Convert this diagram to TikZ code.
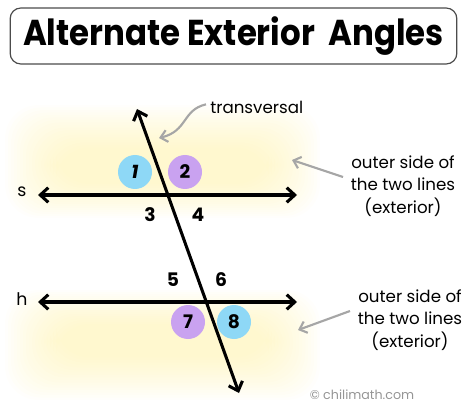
\documentclass[tikz,border=0pt]{standalone}
\usepackage{fontspec}
\setmainfont{Poppins}
\usetikzlibrary{arrows.meta}

\definecolor{anglecyan}{HTML}{8ED8F6}
\definecolor{anglepurple}{HTML}{C9A2F0}
\definecolor{glowyellow}{HTML}{FFEE90}
\definecolor{notegray}{HTML}{A6A6A6}

\tikzset{
  mainline/.style={line width=2.3pt, {Straight Barb[length=6pt,width=11pt]}-{Straight Barb[length=6pt,width=11pt]}},
  notearrow/.style={notegray, line width=1.6pt, -{Straight Barb[length=5pt,width=9pt]}},
  anglenum/.style={font=\fontsize{14}{14}\selectfont\bfseries, inner sep=0pt},
  anglecircle/.style={circle, minimum size=25.5pt, inner sep=0pt},
  notetext/.style={align=center, font=\fontsize{12.5}{17}\selectfont, inner sep=0pt},
  glow/.style={fill=glowyellow, fill opacity=0.032, draw=none}
}

\begin{document}
\begin{tikzpicture}[x=0.75pt,y=0.75pt,yscale=-1,xscale=1]
        \useasboundingbox (0,0) rectangle (474,413);

        % soft yellow bands (outer side of the lines)
        \foreach \i in {0,...,17} {
          \fill[glow, rounded corners=25pt] (5+3*\i,105+2.5*\i) rectangle (320-3*\i,218-2*\i);
          \fill[glow, rounded corners=25pt] (5+3*\i,290+2*\i) rectangle (320-3*\i,400-2.5*\i);
        }

        % title
        \node[draw=black!70, line width=0.9pt, rounded corners=8pt, minimum width=335pt, minimum height=42pt, inner sep=0pt] (title) at (233.5,36)
          {\scalebox{0.9}[1]{\fontsize{27}{27}\selectfont\bfseries Alternate Exterior\ \ Angles}};

        % the two lines and the transversal
        \coordinate (s west) at (38,195);
        \coordinate (s east) at (297,195);
        \coordinate (h west) at (38,302);
        \coordinate (h east) at (297,302);
        \coordinate (t top) at (137,109);
        \coordinate (t bottom) at (239,393);

        \node[anglecircle, fill=anglecyan] (c1) at (135,172) {};
        \node[anglecircle, fill=anglepurple] (c2) at (185,172) {};
        \node[anglecircle, fill=anglepurple] (c7) at (188,322) {};
        \node[anglecircle, fill=anglecyan] (c8) at (234,322) {};

        \draw[mainline] (s west) -- (s east);
        \draw[mainline] (h west) -- (h east);
        \draw[mainline] (t top) -- (t bottom);

        \node[anglenum, font=\fontsize{14}{14}\selectfont\bfseries\itshape] (a1) at (c1) {1};
        \node[anglenum] (a2) at (c2) {2};
        \node[anglenum] (a3) at (150,215) {3};
        \node[anglenum] (a4) at (198,215) {4};
        \node[anglenum] (a5) at (173,280) {5};
        \node[anglenum] (a6) at (221,280) {6};
        \node[anglenum] (a7) at (c7) {7};
        \node[anglenum] (a8) at (c8) {8};

        \node[font=\fontsize{13}{13}\selectfont, inner sep=0pt] (s label) at (22,192) {s};
        \node[font=\fontsize{13}{13}\selectfont, inner sep=0pt] (h label) at (22,299) {h};

        % notes
        \node[notetext, anchor=west] (trans note) at (210,107) {transversal};
        \coordinate (trans tip) at (159,138);
        \draw[notearrow] ([xshift=-3pt,yshift=-2pt]trans note.west) .. controls (182,110) and (188,131) .. (trans tip);

        \node[notetext] (top note) at (403,186) {outer side of\\the two lines\\(exterior)};
        \coordinate (top tip) at (292,160);
        \draw[notearrow] (343,177) -- (top tip);

        \node[notetext] (bottom note) at (410,320) {outer side of\\the two lines\\(exterior)};
        \coordinate (bottom tip) at (298,330);
        \draw[notearrow] (350,311) -- (bottom tip);

        \node[notegray!90!black, font=\fontsize{9.5}{10}\selectfont, inner sep=0pt] (credit) at (362,395) {© chilimath.com};
    \end{tikzpicture}
\end{document}
